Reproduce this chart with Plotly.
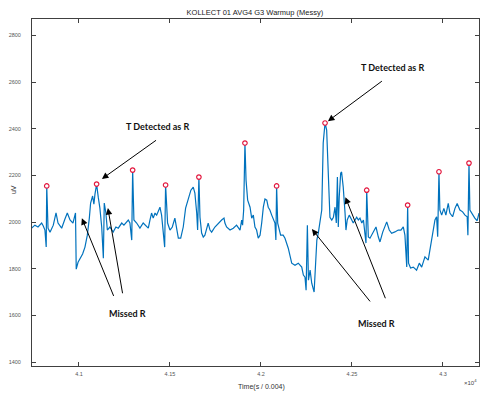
import plotly.graph_objects as go

# ECG signal (sample index, microvolts)
time_samples = [40740, 40758, 40775, 40795, 40804, 40813, 40820, 40823, 40830, 40841,
                40859, 40874, 40885, 40905, 40923, 40936, 40951, 40967, 40981, 40985,
                40995, 41005, 41020, 41033, 41046, 41057, 41064, 41075, 41082, 41088,
                41097, 41106, 41115, 41125, 41134, 41139, 41148, 41156, 41170, 41188,
                41203, 41216, 41235, 41247, 41262, 41271, 41280, 41290, 41295, 41302,
                41317, 41335, 41353, 41372, 41381, 41390, 41399, 41408, 41418, 41427,
                41436, 41445, 41454, 41462, 41471, 41476, 41487, 41500, 41513, 41527,
                41537, 41546, 41559, 41573, 41586, 41601, 41615, 41628, 41637, 41647,
                41652, 41659, 41665, 41674, 41683, 41692, 41702, 41710, 41720, 41729,
                41747, 41765, 41784, 41797, 41802, 41811, 41830, 41848, 41866, 41885,
                41894, 41899, 41905, 41912, 41918, 41927, 41940, 41949, 41958, 41967,
                41976, 41985, 41995, 42004, 42013, 42022, 42032, 42040, 42049, 42059,
                42068, 42077, 42082, 42086, 42092, 42101, 42108, 42122, 42132, 42150,
                42169, 42187, 42205, 42224, 42233, 42242, 42248, 42255, 42261, 42270,
                42279, 42292, 42299, 42307, 42315, 42324, 42334, 42342, 42352, 42361,
                42370, 42379, 42389, 42398, 42407, 42414, 42420, 42425, 42430, 42438,
                42443, 42452, 42462, 42467, 42474, 42485, 42499, 42507, 42526, 42535,
                42544, 42554, 42563, 42577, 42581, 42590, 42599, 42618, 42632, 42645,
                42654, 42669, 42681, 42691, 42705, 42718, 42736, 42754, 42769, 42782,
                42791, 42801, 42806, 42811, 42822, 42837, 42855, 42870, 42883, 42901,
                42919, 42928, 42938, 42947, 42956, 42965, 42971, 42978, 42983, 42993,
                43005, 43016, 43029, 43038, 43053, 43066, 43078, 43093, 43108, 43121,
                43133, 43137, 43143, 43148, 43163, 43175, 43188, 43198]
signal_uv = [1974, 1987, 1979, 1996, 1983, 1966, 1893, 2155, 1974, 1957,
             1987, 2040, 1996, 1974, 2013, 2039, 2009, 1996, 2039, 1798,
             1828, 1845, 1863, 1893, 1944, 2017, 2082, 2112, 2077, 2120,
             2163, 2107, 2060, 1979, 1845, 2082, 2039, 1966, 1979, 1957,
             1979, 1974, 1996, 1987, 2000, 2009, 1996, 1923, 2223, 2009,
             1996, 1974, 1996, 1979, 1974, 2009, 2039, 2017, 2039, 2030,
             2052, 2064, 2030, 1966, 1893, 2159, 1996, 1966, 1979, 2017,
             1966, 1931, 1931, 1979, 2060, 2103, 2137, 2150, 2124, 2039,
             1966, 2193, 2021, 1953, 1936, 1944, 1979, 1996, 1966, 1957,
             1979, 1996, 2009, 2017, 1996, 1979, 1966, 1974, 1987, 1966,
             2009, 1987, 2052, 2339, 2180, 2094, 2064, 2017, 2030, 1979,
             1966, 1931, 1944, 1996, 2064, 2099, 2094, 2064, 2052, 2030,
             2009, 1996, 1923, 2155, 1996, 1966, 1944, 1944, 1931, 1888,
             1824, 1815, 1824, 1807, 1773, 1764, 1708, 1987, 1751, 1794,
             1738, 1700, 1807, 1923, 1953, 1996, 2052, 2339, 2425, 2395,
             2223, 2021, 2009, 2021, 2064, 1996, 2193, 1979, 2107, 2210,
             2215, 2150, 2039, 1966, 2009, 2030, 2009, 1996, 2021, 2009,
             2017, 1996, 2009, 1910, 2137, 1936, 1931, 1958, 1979, 1936,
             1915, 1957, 1980, 2001, 1966, 1952, 1958, 1966, 1966, 1980,
             1944, 1808, 2073, 1824, 1803, 1807, 1794, 1824, 1807, 1851,
             1837, 1880, 1937, 1980, 2009, 2023, 1937, 2216, 2052, 2030,
             2059, 2030, 2080, 2039, 2023, 2059, 2080, 2052, 2044, 2030,
             2023, 1944, 2253, 2052, 2030, 2017, 2006, 2039]

# Detected R peaks
peak_samples = [40823, 41097, 41295, 41476, 41659, 41912, 42086, 42352, 42581, 42806, 42978, 43143]
peak_uv = [2155, 2163, 2223, 2159, 2193, 2339, 2155, 2425, 2137, 2073, 2216, 2253]

x_tick_vals = [41000, 41500, 42000, 42500, 43000]
x_tick_text = ["4.1", "4.15", "4.2", "4.25", "4.3"]
y_tick_vals = [1400, 1600, 1800, 2000, 2200, 2400, 2600, 2800]

fig = go.Figure()
fig.add_trace(go.Scatter(x=time_samples, y=signal_uv, mode="lines",
                         line=dict(color="#0072BD", width=1.2), showlegend=False))
fig.add_trace(go.Scatter(x=peak_samples, y=peak_uv, mode="markers",
                         marker=dict(symbol="circle", size=4.5, color="white",
                                     line=dict(color="#E3173E", width=1.2)),
                         showlegend=False))

arrows = [
    # (head_x, head_y, tail_x, tail_y)
    (41126, 2185, 41440, 2360),
    (42368, 2433, 42681, 2614),
    (41016, 2017, 41207, 1652),
    (41159, 2060, 41249, 1652),
    (42280, 1970, 42616, 1644),
    (42464, 2107, 42700, 1641),
]
for hx, hy, tx, ty in arrows:
    fig.add_annotation(x=hx, y=hy, ax=tx, ay=ty, xref="x", yref="y", axref="x", ayref="y",
                       showarrow=True, arrowhead=2, arrowsize=1.3, arrowwidth=1,
                       arrowcolor="black", text=" ")

labels = [
    ("T Detected as R", 41434, 2412),
    ("T Detected as R", 42720, 2661),
    ("Missed R", 41269, 1609),
    ("Missed R", 42637, 1567),
]
for txt, lx, ly in labels:
    fig.add_annotation(x=lx, y=ly, xref="x", yref="y", text="<b>" + txt + "</b>",
                       showarrow=False, font=dict(family="Lato", size=9, color="#111111"))

# axis labels and exponent
fig.add_annotation(x=0.5145, y=0, xref="paper", yref="paper", text="Time(s / 0.004)",
                   showarrow=False, xanchor="center", yanchor="middle", yshift=-21,
                   font=dict(family="Liberation Sans", size=7, color="#333333"))
fig.add_annotation(x=0, y=0.507, xref="paper", yref="paper", text="uV", textangle=-90,
                   showarrow=False, xanchor="center", yanchor="middle", xshift=-19,
                   font=dict(family="Liberation Sans", size=7, color="#333333"))
fig.add_annotation(x=0.98, y=0, xref="paper", yref="paper", text="×10<sup>4</sup>",
                   showarrow=False, xanchor="center", yanchor="middle", yshift=-16,
                   font=dict(family="Liberation Sans", size=6, color="#444444"))

axis_common = dict(showgrid=False, zeroline=False, showline=True, linecolor="#404040",
                   linewidth=1, mirror="allticks", ticks="inside", ticklen=4, automargin=False,
                   tickcolor="#404040", tickfont=dict(family="Liberation Sans", size=5.5, color="#555555"))

# page body adds an 8px offset, so the figure is shrunk to keep the plot area in place
fig.update_layout(
    width=485, height=391,
    margin=dict(l=24, r=14, t=11, b=33, autoexpand=False),
    paper_bgcolor="white", plot_bgcolor="white",
    title=dict(text="KOLLECT 01 AVG4 G3 Warmup (Messy)", x=0.509, xanchor="center",
               y=0.99, yanchor="middle", automargin=False,
               font=dict(family="Liberation Sans", size=7.5, color="#222222")),
    xaxis=dict(range=[40742, 43198], tickvals=x_tick_vals, ticktext=x_tick_text,
               ticklabelstandoff=2, **axis_common),
    yaxis=dict(range=[1383, 2871], tickvals=y_tick_vals,
               ticklabelstandoff=9, **axis_common),
)

fig.write_html("out.html")
